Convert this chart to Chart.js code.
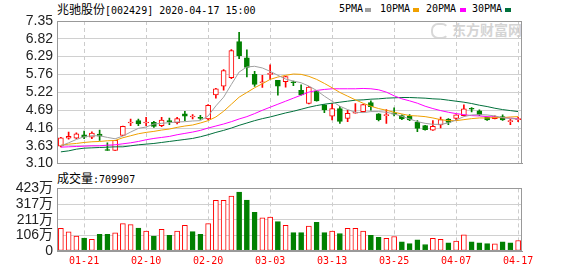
<!DOCTYPE html>
<html>
<head>
<meta charset="utf-8">
<script src="https://cdn.jsdelivr.net/npm/chart.js@4.4.0/dist/chart.umd.min.js"></script>
<style>
  body { margin: 0; background: #fff; width: 578px; height: 276px; position: relative; overflow: hidden; }
  .t { position: absolute; white-space: nowrap; color: #000; line-height: 14px; }
  .cjk { font-family: "Noto Sans CJK SC"; font-size: 12px; }
  .mono { font-family: "DejaVu Sans Mono"; font-size: 10px; }
  .sq { position: absolute; width: 6px; height: 4px; }
  canvas { position: absolute; left: 0; }
</style>
</head>
<body>
<div class="t" style="left:57px;top:2px;"><span class="cjk">兆驰股份</span><span class="mono">[002429] 2020-04-17 15:00</span></div>

<!-- legend -->
<div class="t mono" style="left:339px;top:2px;">5PMA</div>
<div class="sq" style="left:365px;top:8px;background:#a0a0a0;"></div>
<div class="t mono" style="left:380px;top:2px;">10PMA</div>
<div class="sq" style="left:413px;top:8px;background:#f0a000;"></div>
<div class="t mono" style="left:426px;top:2px;">20PMA</div>
<div class="sq" style="left:460px;top:8px;background:#ff00ff;"></div>
<div class="t mono" style="left:472px;top:2px;">30PMA</div>
<div class="sq" style="left:505px;top:8px;background:#00703c;"></div>

<!-- watermark -->
<div style="position:absolute;left:431px;top:23px;width:14px;height:12px;border-radius:7px;border:2px solid #d8d8d8;border-right-color:transparent;"></div>
<div class="t" style="left:452px;top:21px;font:bold 14px 'Noto Sans CJK SC';color:#d4d4d4;line-height:16px;">东方财富网</div>

<div class="t" style="left:57px;top:171px;"><span class="cjk">成交量</span><span class="mono">:709907</span></div>

<canvas id="price" width="578" height="176" style="top:0"></canvas>
<canvas id="volume" width="578" height="100" style="top:176px"></canvas>

<script>
// 日期 (交易日)
const dates = ['01-16','01-17','01-20','01-21','01-22','01-23','02-03','02-04','02-05','02-06',
  '02-07','02-10','02-11','02-12','02-13','02-14','02-17','02-18','02-19','02-20',
  '02-21','02-24','02-25','02-26','02-27','02-28','03-02','03-03','03-04','03-05',
  '03-06','03-09','03-10','03-11','03-12','03-13','03-16','03-17','03-18','03-19',
  '03-20','03-23','03-24','03-25','03-26','03-27','03-30','03-31','04-01','04-02',
  '04-03','04-07','04-08','04-09','04-10','04-13','04-14','04-15','04-16','04-17'];
const dateTicks = ['01-21','02-10','02-20','03-03','03-13','03-25','04-07','04-17'];

// K线
const opens = [3.62,3.86,3.86,3.96,3.89,3.98,3.50,3.49,3.94,4.31,4.38,4.31,4.33,4.23,4.36,4.32,4.58,4.49,4.46,4.43,
  5.15,5.41,5.66,6.74,6.25,5.76,5.51,5.76,5.58,5.54,5.52,5.28,4.89,5.26,4.85,4.51,4.74,4.45,4.60,4.65,
  4.92,4.58,4.53,4.61,4.53,4.51,4.33,4.23,4.10,4.25,4.43,4.45,4.53,4.73,4.67,4.48,4.44,4.50,4.35,4.41];
const highs = [3.88,4.04,4.02,4.07,4.05,4.10,3.72,3.79,4.22,4.43,4.43,4.48,4.36,4.48,4.46,4.48,4.66,4.56,4.54,4.86,
  5.34,5.90,6.50,7.01,6.49,5.85,5.73,6.04,5.58,5.70,5.56,5.45,5.40,5.28,4.86,4.89,4.81,4.69,4.89,4.87,
  4.97,4.59,4.71,4.76,4.55,4.56,4.38,4.24,4.38,4.49,4.44,4.55,4.85,4.77,4.70,4.49,4.52,4.55,4.43,4.49];
const lows = [3.60,3.83,3.84,3.84,3.84,3.79,3.49,3.49,3.93,4.23,4.23,4.23,4.18,4.20,4.26,4.28,4.38,4.43,4.42,4.41,
  5.05,5.29,5.63,6.23,5.68,5.40,5.37,5.61,5.14,5.38,5.42,5.14,4.88,4.96,4.62,4.40,4.30,4.35,4.60,4.64,
  4.69,4.37,4.30,4.52,4.41,4.38,4.05,4.10,4.09,4.16,4.26,4.38,4.52,4.64,4.53,4.39,4.43,4.39,4.26,4.35];
const closes = [3.87,3.91,3.99,3.89,4.01,3.92,3.49,3.79,4.21,4.32,4.28,4.32,4.21,4.40,4.35,4.44,4.51,4.50,4.45,4.84,
  5.33,5.87,6.47,6.32,5.97,5.46,5.53,5.77,5.41,5.69,5.51,5.15,5.38,4.97,4.70,4.74,4.36,4.60,4.61,4.86,
  4.80,4.41,4.54,4.57,4.43,4.40,4.15,4.11,4.21,4.41,4.33,4.55,4.73,4.72,4.55,4.40,4.50,4.40,4.36,4.43];

// 均线
const ma5 = [3.63,3.72,3.82,3.90,3.93,3.93,3.88,3.84,3.92,4.04,4.15,4.19,4.28,4.30,4.32,4.34,4.35,4.37,4.38,4.52,
  4.82,5.08,5.46,5.83,5.98,6.00,5.95,5.85,5.73,5.62,5.56,5.51,5.41,5.28,5.11,4.96,4.81,4.71,4.63,4.62,
  4.65,4.65,4.63,4.58,4.51,4.43,4.35,4.30,4.27,4.27,4.31,4.40,4.50,4.55,4.56,4.55,4.52,4.47,4.44,4.43];
const ma10 = [3.65,3.68,3.70,3.73,3.75,3.76,3.78,3.79,3.87,3.93,3.99,4.03,4.06,4.10,4.13,4.18,4.22,4.25,4.31,4.38,
  4.49,4.66,4.87,5.08,5.22,5.36,5.48,5.61,5.68,5.73,5.77,5.76,5.70,5.61,5.49,5.36,5.22,5.11,5.00,4.90,
  4.81,4.74,4.69,4.63,4.58,4.53,4.52,4.50,4.46,4.41,4.38,4.38,4.41,4.44,4.46,4.46,4.47,4.47,4.49,4.50];
const ma20 = [3.59,3.60,3.61,3.62,3.63,3.63,3.65,3.66,3.69,3.72,3.76,3.81,3.85,3.88,3.91,3.96,4.00,4.04,4.09,4.16,
  4.22,4.28,4.35,4.43,4.50,4.59,4.69,4.78,4.87,4.96,5.05,5.14,5.23,5.28,5.31,5.33,5.33,5.33,5.33,5.34,
  5.33,5.30,5.23,5.12,5.03,4.97,4.90,4.81,4.74,4.68,4.63,4.59,4.56,4.53,4.52,4.50,4.49,4.47,4.46,4.43];
const ma30 = [3.45,3.48,3.53,3.56,3.57,3.58,3.59,3.60,3.60,3.63,3.66,3.68,3.70,3.73,3.76,3.79,3.82,3.85,3.90,3.96,
  4.03,4.09,4.16,4.24,4.31,4.38,4.44,4.49,4.55,4.61,4.66,4.72,4.78,4.83,4.87,4.90,4.93,4.96,4.99,5.00,
  5.02,5.03,5.05,5.06,5.07,5.07,5.06,5.05,5.03,5.02,4.99,4.96,4.93,4.89,4.84,4.80,4.75,4.71,4.68,4.65];

// 成交量 (万)
const volumes = [154,129,100,87,79,112,112,122,185,178,155,135,100,147,106,135,174,131,112,185,
  342,342,371,398,344,261,224,230,199,174,124,124,168,193,124,135,118,154,154,135,
  106,93,85,98,62,50,75,44,85,79,56,67,110,62,56,50,48,62,56,71];

const priceTickLabels = ['3.10','3.63','4.16','4.69','5.22','5.76','6.29','6.82','7.35'];
const volTicks = [0, 106, 211, 317, 423];
const volTickLabels = ['0', '106万', '211万', '317万', '423万'];

const RED = '#ff0000';
const GREEN = '#008000';

Chart.defaults.font.family = '"Liberation Sans", "Noto Sans CJK SC", sans-serif';

const candleUp = closes.map((c, i) => c >= opens[i]);
// 成交量颜色按收盘价与前一日收盘价比较
const volUp = closes.map((c, i) => i === 0 ? c >= opens[i] : c >= closes[i - 1]);

// 边框
const framePlugin = {
  id: 'frame',
  afterDraw(chart) {
    const a = chart.chartArea;
    const c = chart.ctx;
    c.save();
    c.strokeStyle = '#999';
    c.lineWidth = 1;
    c.strokeRect(Math.round(a.left) + 0.5, Math.round(a.top) + 0.5,
      Math.round(a.right - a.left) - 1, Math.round(a.bottom - a.top) - 1);
    c.restore();
  }
};

const xGrid = {
  offset: false,
  drawTicks: false,
  color: (ctx) => dateTicks.includes(dates[ctx.index]) ? '#cccccc' : 'rgba(0,0,0,0)'
};

function maLine(data, color) {
  return { type: 'line', data: data, borderColor: color, borderWidth: 1, pointRadius: 0, tension: 0, fill: false };
}

// K线图
new Chart(document.getElementById('price'), {
  data: {
    labels: dates,
    datasets: [
      maLine(ma5, '#a0a0a0'),
      maLine(ma10, '#f0a000'),
      maLine(ma20, '#ff00ff'),
      maLine(ma30, '#00703c'),
      {
        type: 'bar',
        data: opens.map((o, i) => [o, closes[i]]),
        backgroundColor: candleUp.map(u => u ? '#ffffff' : GREEN),
        borderColor: candleUp.map(u => u ? RED : GREEN),
        borderWidth: 1,
        borderSkipped: false,
        barThickness: 5,
        minBarLength: 1,
        grouped: false
      },
      {
        type: 'bar',
        data: lows.map((l, i) => [l, highs[i]]),
        backgroundColor: candleUp.map(u => u ? RED : GREEN),
        borderWidth: 0,
        barThickness: 1,
        grouped: false
      }
    ]
  },
  options: {
    responsive: false,
    animation: false,
    layout: { padding: { top: 21, right: 56, bottom: 11, left: 0 } },
    plugins: { legend: { display: false }, tooltip: { enabled: false } },
    scales: {
      x: {
        offset: true,
        ticks: { display: false },
        grid: xGrid,
        border: { color: '#999', dash: [4, 3] }
      },
      y: {
        min: 3.10,
        max: 7.35,
        afterBuildTicks: (axis) => { axis.ticks = priceTickLabels.map(v => ({ value: Number(v) })); },
        afterFit: (axis) => { axis.width = 57; },
        ticks: {
          autoSkip: false,
          callback: (v, i) => priceTickLabels[i],
          padding: 4,
          color: '#222',
          font: { size: 14 }
        },
        grid: { color: '#d0d0d0', drawTicks: false },
        border: { color: '#999' }
      }
    }
  },
  plugins: [framePlugin]
});

// 成交量图
new Chart(document.getElementById('volume'), {
  type: 'bar',
  data: {
    labels: dates,
    datasets: [{
      data: volumes,
      backgroundColor: volUp.map(u => u ? '#ffffff' : GREEN),
      borderColor: volUp.map(u => u ? RED : GREEN),
      borderWidth: 1,
      borderSkipped: false,
      barThickness: 5
    }]
  },
  options: {
    responsive: false,
    animation: false,
    layout: { padding: { top: 11, right: 56, bottom: 5, left: 0 } },
    plugins: { legend: { display: false }, tooltip: { enabled: false } },
    scales: {
      x: {
        offset: true,
        ticks: {
          autoSkip: false,
          maxRotation: 0,
          padding: 4,
          color: RED,
          font: { family: 'DejaVu Sans Mono', size: 10 },
          callback: (v, i) => dateTicks.includes(dates[i]) ? dates[i] : ''
        },
        grid: xGrid,
        border: { color: '#999', dash: [4, 3] }
      },
      y: {
        min: 0,
        max: 423,
        afterBuildTicks: (axis) => { axis.ticks = volTicks.map(v => ({ value: v })); },
        afterFit: (axis) => { axis.width = 57; },
        ticks: {
          autoSkip: false,
          callback: (v, i) => volTickLabels[i],
          padding: 4,
          color: '#222',
          font: { size: 14 }
        },
        grid: { color: '#d0d0d0', drawTicks: false },
        border: { color: '#999' }
      }
    }
  },
  plugins: [framePlugin]
});
</script>
</body>
</html>
